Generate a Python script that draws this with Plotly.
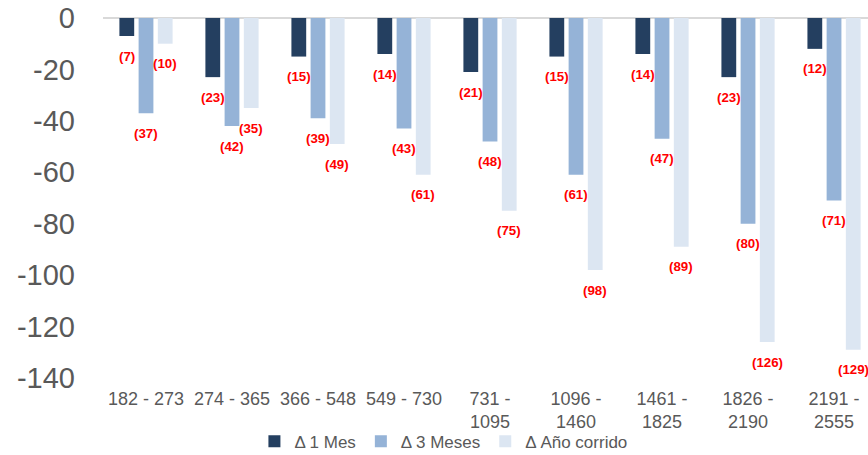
import plotly.graph_objects as go

categories = ["182 - 273", "274 - 365", "366 - 548", "549 - 730", "731 -<br>1095",
              "1096 -<br>1460", "1461 -<br>1825", "1826 -<br>2190", "2191 -<br>2555"]
series_names = ["Δ 1 Mes", "Δ 3 Meses", "Δ Año corrido"]
delta_1m = [-7, -23, -15, -14, -21, -15, -14, -23, -12]
delta_3m = [-37, -42, -39, -43, -48, -61, -47, -80, -71]
delta_ytd = [-10, -35, -49, -61, -75, -98, -89, -126, -129]
y_ticks = [0, -20, -40, -60, -80, -100, -120, -140]
y_tick_labels = ["0", "-20", "-40", "-60", "-80", "-100", "-120", "-140"]

colors = ["#243F60", "#95B3D7", "#DCE6F2"]
series = [delta_1m, delta_3m, delta_ytd]
FONT = "Liberation Sans, Arial, sans-serif"

fig = go.Figure()
for name, vals, col in zip(series_names, series, colors):
    fig.add_trace(go.Bar(x=categories, y=vals, name=name,
                         marker=dict(color=col, line=dict(width=0)),
                         hoverinfo="x+y"))

annotations = []
shifts = [-19.2, 0, 19.2]
for vals, sh in zip(series, shifts):
    for c, v in zip(categories, vals):
        annotations.append(dict(x=c, y=v, xref="x", yref="y", text=f"({abs(v)})",
                                showarrow=False, xshift=sh, yshift=-20,
                                yanchor="middle", xanchor="center",
                                font=dict(family=FONT, size=13.3, color="#FF0000", weight="bold")))

fig.update_layout(
    width=868, height=455,
    margin=dict(l=103, r=0, t=18, b=77, autoexpand=False),
    paper_bgcolor="white", plot_bgcolor="white",
    barmode="group", bargap=0.33, bargroupgap=0.23,
    font=dict(family=FONT, color="#595959"),
    xaxis=dict(type="category", range=[-0.5, 8.395], showgrid=False, showline=False,
               zeroline=False, ticks="", tickfont=dict(size=18, color="#595959"),
               tickangle=0, automargin=False, ticklabelstandoff=8),
    yaxis=dict(range=[-140, 0], tickvals=y_ticks, ticktext=y_tick_labels,
               showgrid=False, showline=False,
               zeroline=True, zerolinecolor="#D9D9D9", zerolinewidth=1.5,
               ticks="", ticklabelstandoff=27, automargin=False,
               tickfont=dict(size=29, color="#595959")),
    legend=dict(orientation="h", x=0.445, xanchor="center",
                yref="container", y=0.029, yanchor="middle",
                font=dict(size=17, color="#595959"), itemwidth=30,
                bgcolor="rgba(0,0,0,0)"),
    annotations=annotations,
    showlegend=True,
)

fig.write_html("out.html", config={"displayModeBar": False},
               post_script="document.body.style.margin='0';document.body.style.overflow='hidden';")
